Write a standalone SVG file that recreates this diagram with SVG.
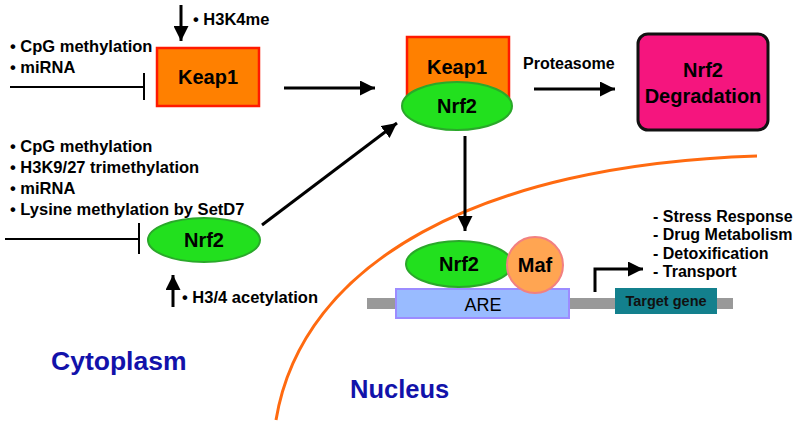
<svg xmlns="http://www.w3.org/2000/svg" width="800" height="425" viewBox="0 0 800 425">
<defs>
<marker id="ah" viewBox="0 0 10 10" refX="10" refY="5" markerWidth="5" markerHeight="5" markerUnits="strokeWidth" orient="auto">
<path d="M0,0 L10,5 L0,10 z" fill="#000"/>
</marker>
<style>
text{font-family:"Liberation Sans",Arial,sans-serif;font-weight:bold;fill:#000}
.lbl{font-size:16.5px}
.lst{font-size:16px}
.big{font-size:20px;text-anchor:middle}
.arr{stroke:#000;stroke-width:3;fill:none;marker-end:url(#ah)}
.inh{stroke:#000;stroke-width:2;fill:none}
.green{fill:#22E01E;stroke:#2AA82A;stroke-width:2}
.orange{fill:#FF8000;stroke:#FF1A00;stroke-width:2.5}
.region{fill:#1212AA}
</style>
</defs>
<rect width="800" height="425" fill="#fff"/>
<!-- nuclear membrane -->
<path d="M276 420 C 302 262, 480 165, 757 156" fill="none" stroke="#FF6A10" stroke-width="3"/>
<!-- DNA -->
<rect x="367" y="298" width="366" height="11" fill="#999"/>
<g id="keap1">
<rect class="orange" x="157" y="48" width="102" height="58"/>
<text class="big" x="208" y="84">Keap1</text>
</g>
<g id="complex">
<rect class="orange" x="407" y="37" width="102" height="62"/>
<text class="big" x="457" y="74">Keap1</text>
<ellipse class="green" cx="457" cy="106" rx="55" ry="24"/>
<text class="big" x="457" y="113">Nrf2</text>
</g>
<g id="degradation">
<rect x="638" y="34" width="130" height="96" rx="10" fill="#F5157E" stroke="#111" stroke-width="3"/>
<text class="big" x="703" y="77">Nrf2</text>
<text class="big" x="703" y="103">Degradation</text>
</g>
<g id="nrf2">
<ellipse class="green" cx="204" cy="240" rx="56" ry="22"/>
<text class="big" x="204" y="247">Nrf2</text>
</g>
<g id="are">
<rect x="396" y="289" width="173" height="29" fill="#99BBFF" stroke="#9C8CFF" stroke-width="2"/>
<text x="483" y="311" style="font-size:18px;font-weight:normal;text-anchor:middle">ARE</text>
</g>
<g id="nrf2-nuc">
<ellipse class="green" cx="459" cy="264" rx="53" ry="23"/>
<text class="big" x="459" y="271">Nrf2</text>
</g>
<g id="maf">
<circle cx="535" cy="265" r="28" fill="#FFA552" stroke="#F28080" stroke-width="2"/>
<text class="big" x="535" y="272">Maf</text>
</g>
<g id="target">
<rect x="615" y="288" width="102" height="26" fill="#13808D"/>
<text x="666" y="306" style="font-size:14.5px;text-anchor:middle;fill:#111">Target gene</text>
</g>
<g id="connectors">
<line class="arr" x1="181" y1="5" x2="181" y2="41"/>
<line class="inh" x1="10" y1="87" x2="143" y2="87"/>
<line class="inh" x1="144" y1="73" x2="144" y2="100"/>
<line class="arr" x1="284" y1="88" x2="375" y2="88"/>
<line class="arr" x1="534" y1="89" x2="615" y2="89"/>
<line class="arr" x1="465" y1="136" x2="465" y2="231"/>
<line class="arr" x1="262" y1="225" x2="397" y2="123"/>
<line class="inh" x1="5" y1="239" x2="138" y2="239"/>
<line class="inh" x1="139" y1="223" x2="139" y2="254"/>
<line class="arr" x1="173" y1="307" x2="173" y2="275"/>
<path class="arr" d="M595 292 L595 269 L643 269"/>
</g>
<g id="labels">
<text class="lbl" x="193" y="25">• H3K4me</text>
<text class="lbl" x="10" y="52">• CpG methylation</text>
<text class="lbl" x="10" y="73">• miRNA</text>
<text class="lbl" x="10" y="152">• CpG methylation</text>
<text class="lbl" x="10" y="173">• H3K9/27 trimethylation</text>
<text class="lbl" x="10" y="194">• miRNA</text>
<text class="lbl" x="10" y="215">• Lysine methylation by SetD7</text>
<text class="lbl" x="182" y="303">• H3/4 acetylation</text>
<text class="lst" x="523" y="69">Proteasome</text>
<text class="lst" x="653" y="222">- Stress Response</text>
<text class="lst" x="653" y="240">- Drug Metabolism</text>
<text class="lst" x="653" y="259">- Detoxification</text>
<text class="lst" x="653" y="277">- Transport</text>
<text class="region" x="51" y="370" style="font-size:26.5px">Cytoplasm</text>
<text class="region" x="350" y="398" style="font-size:25.5px">Nucleus</text>
</g>
</svg>
